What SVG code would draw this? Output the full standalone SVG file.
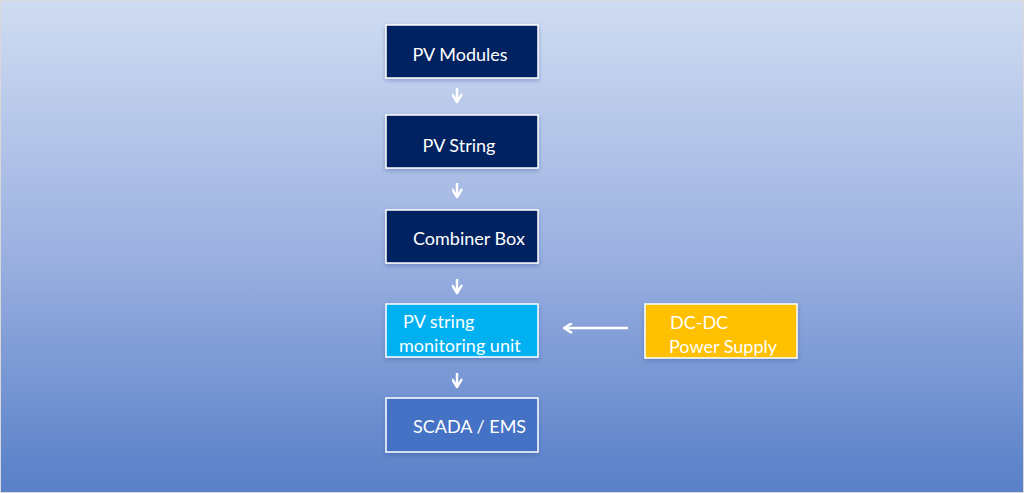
<svg xmlns="http://www.w3.org/2000/svg" width="1024" height="493" viewBox="0 0 1024 493">
<defs>
<linearGradient id="bg" x1="0" y1="0" x2="0" y2="1">
<stop offset="0" stop-color="#d0dcf2"/>
<stop offset="0.5" stop-color="#9db2e1"/>
<stop offset="1" stop-color="#587fc8"/>
</linearGradient>
<filter id="sh" x="-10%" y="-10%" width="120%" height="130%">
<feDropShadow dx="0" dy="2" stdDeviation="2" flood-color="#2a4a90" flood-opacity="0.35"/>
</filter>
<marker id="ah" viewBox="0 0 10 10" refX="8" refY="5" markerWidth="11" markerHeight="11" markerUnits="userSpaceOnUse" orient="auto">
<path d="M1.5,1 L8,5 L1.5,9" fill="none" stroke="#fff" stroke-width="2.2" stroke-linecap="round" stroke-linejoin="round"/>
</marker>
</defs>
<style>
.box{stroke:#fff;stroke-width:1.5;filter:url(#sh)}
.t{font-family:Lato,"Open Sans",sans-serif;font-size:18px;fill:#fff}
.c{stroke:#fff;stroke-width:2.5;fill:none;marker-end:url(#ah)}
</style>
<rect x="0" y="0" width="1024" height="493" fill="url(#bg)"/>
<rect x="0.5" y="0.5" width="1023" height="492" fill="none" stroke="#d8d8d8" stroke-width="1"/>
<g id="connectors">
<line class="c" x1="457" y1="88" x2="457" y2="102"/>
<line class="c" x1="457" y1="183" x2="457" y2="197"/>
<line class="c" x1="457" y1="279" x2="457" y2="293"/>
<line class="c" x1="457" y1="373" x2="457" y2="387"/>
<line class="c" x1="628" y1="328" x2="564" y2="328"/>
</g>
<g id="pv-modules">
<rect class="box" x="386" y="25" width="152" height="53" fill="#002060"/>
<text class="t" x="460" y="61" text-anchor="middle">PV Modules</text>
</g>
<g id="pv-string">
<rect class="box" x="386" y="115" width="152" height="53" fill="#002060"/>
<text class="t" x="459" y="152" text-anchor="middle">PV String</text>
</g>
<g id="combiner-box">
<rect class="box" x="386" y="210" width="152" height="53" fill="#002060"/>
<text class="t" x="413" y="245">Combiner Box</text>
</g>
<g id="monitoring-unit">
<rect class="box" x="386" y="304" width="152" height="53" fill="#00b0f0"/>
<text class="t" x="403" y="328">PV string</text>
<text class="t" x="399" y="352">monitoring unit</text>
</g>
<g id="scada-ems">
<rect class="box" x="386" y="398" width="152" height="54" fill="#4472c4"/>
<text class="t" x="413" y="433">SCADA / EMS</text>
</g>
<g id="dc-dc">
<rect class="box" x="645" y="304" width="152" height="54" fill="#ffc000"/>
<text class="t" x="670" y="329">DC-DC</text>
<text class="t" x="669" y="353">Power Supply</text>
</g>
</svg>
